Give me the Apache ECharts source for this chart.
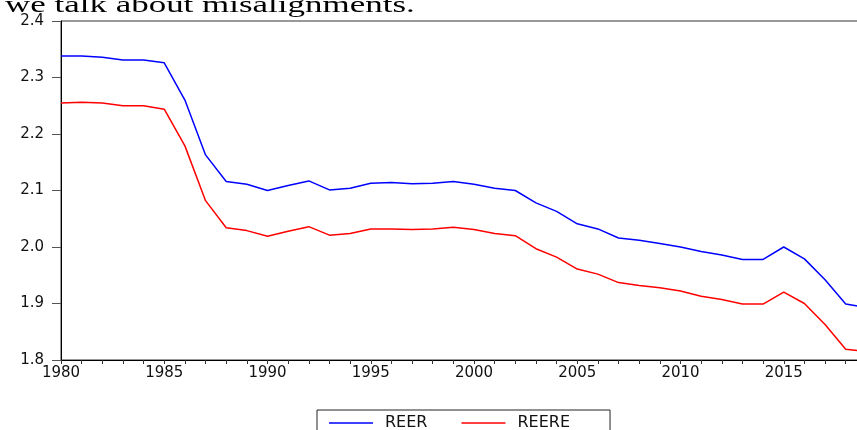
<!DOCTYPE html>
<html>
<head>
<meta charset="utf-8">
<script src="https://cdn.jsdelivr.net/npm/echarts@6/dist/echarts.min.js"></script>
<style>
  html, body { margin: 0; padding: 0; background: #fff; overflow: hidden; }
  /* the plot frame runs on past the right edge of the window */
  #chart { width: 887px; height: 430px; }
</style>
</head>
<body>
<div id="chart"></div>
<script>
// Annual observations
const years = [
  1980, 1981, 1982, 1983, 1984, 1985, 1986, 1987, 1988, 1989,
  1990, 1991, 1992, 1993, 1994, 1995, 1996, 1997, 1998, 1999,
  2000, 2001, 2002, 2003, 2004, 2005, 2006, 2007, 2008, 2009,
  2010, 2011, 2012, 2013, 2014, 2015, 2016, 2017, 2018, 2019
];

// Real effective exchange rate (log)
const reer = [
  2.338, 2.338, 2.336, 2.331, 2.331, 2.326, 2.260, 2.163, 2.116, 2.111,
  2.100, 2.109, 2.117, 2.101, 2.104, 2.113, 2.114, 2.112, 2.113, 2.116,
  2.111, 2.104, 2.100, 2.078, 2.063, 2.041, 2.032, 2.016, 2.012, 2.006,
  2.000, 1.992, 1.986, 1.978, 1.978, 2.000, 1.979, 1.942, 1.899, 1.893
];

// Equilibrium real effective exchange rate (log)
const reere = [
  2.255, 2.256, 2.255, 2.250, 2.250, 2.244, 2.179, 2.082, 2.034, 2.029,
  2.019, 2.028, 2.036, 2.021, 2.024, 2.032, 2.032, 2.031, 2.032, 2.035,
  2.031, 2.024, 2.020, 1.997, 1.982, 1.961, 1.952, 1.937, 1.932, 1.928,
  1.922, 1.913, 1.907, 1.899, 1.899, 1.920, 1.900, 1.863, 1.819, 1.815
];

const seriesNames = ['REER', 'REERE'];
const yTicks = [1.8, 1.9, 2.0, 2.1, 2.2, 2.3, 2.4];
const headingText = 'we talk about misalignments.';

const pairs = (vals) => years.map((y, i) => [y, vals[i]]);

const labelFont = 'DejaVu Sans';
const chart = echarts.init(document.getElementById('chart'));

chart.setOption({
  backgroundColor: '#ffffff',
  animation: false,
  graphic: [{
    type: 'text',
    left: 5,
    top: -6,
    scaleX: 1.52,
    style: {
      text: headingText,
      font: '23px "Liberation Serif", "Times New Roman", serif',
      fill: '#000'
    }
  }],
  grid: {
    left: 61,
    top: 21,
    right: 0,
    bottom: 70,
    show: true,
    borderColor: '#333',
    borderWidth: 1,
    backgroundColor: 'transparent'
  },
  legend: {
    left: 317,
    top: 410,
    orient: 'horizontal',
    data: seriesNames,
    icon: 'rect',
    itemWidth: 44,
    itemHeight: 1.5,
    itemGap: 34,
    padding: [5, 40, 5, 12],
    borderColor: '#222',
    borderWidth: 1,
    borderRadius: 0,
    textStyle: {
      fontFamily: labelFont,
      fontSize: 16,
      color: '#111',
      padding: [0, 0, 0, 7]
    }
  },
  xAxis: {
    type: 'value',
    min: 1980,
    max: 2020,
    interval: 5,
    axisLine: { show: true, onZero: false, lineStyle: { color: '#000', width: 1 } },
    axisTick: { show: true, length: 4, lineStyle: { color: '#333' } },
    minorTick: { show: true, splitNumber: 5, length: 4, lineStyle: { color: '#333' } },
    splitLine: { show: false },
    axisLabel: {
      showMaxLabel: false,
      margin: 6,
      fontFamily: labelFont,
      fontSize: 15,
      color: '#111',
      formatter: (v) => String(v)
    }
  },
  yAxis: {
    type: 'value',
    min: yTicks[0],
    max: yTicks[yTicks.length - 1],
    interval: 0.1,
    axisLine: { show: true, lineStyle: { color: '#000', width: 1 } },
    axisTick: { show: true, length: 9, lineStyle: { color: '#555', width: 1 } },
    splitLine: { show: false },
    axisLabel: {
      margin: 17,
      fontFamily: labelFont,
      fontSize: 15,
      color: '#111',
      formatter: (v) => v.toFixed(1)
    }
  },
  series: [
    {
      name: seriesNames[0],
      type: 'line',
      data: pairs(reer),
      symbol: 'none',
      color: '#0000ff',
      lineStyle: { color: '#0000ff', width: 1.5 }
    },
    {
      name: seriesNames[1],
      type: 'line',
      data: pairs(reere),
      symbol: 'none',
      color: '#ff0000',
      lineStyle: { color: '#ff0000', width: 1.5 }
    }
  ]
});
</script>
</body>
</html>
